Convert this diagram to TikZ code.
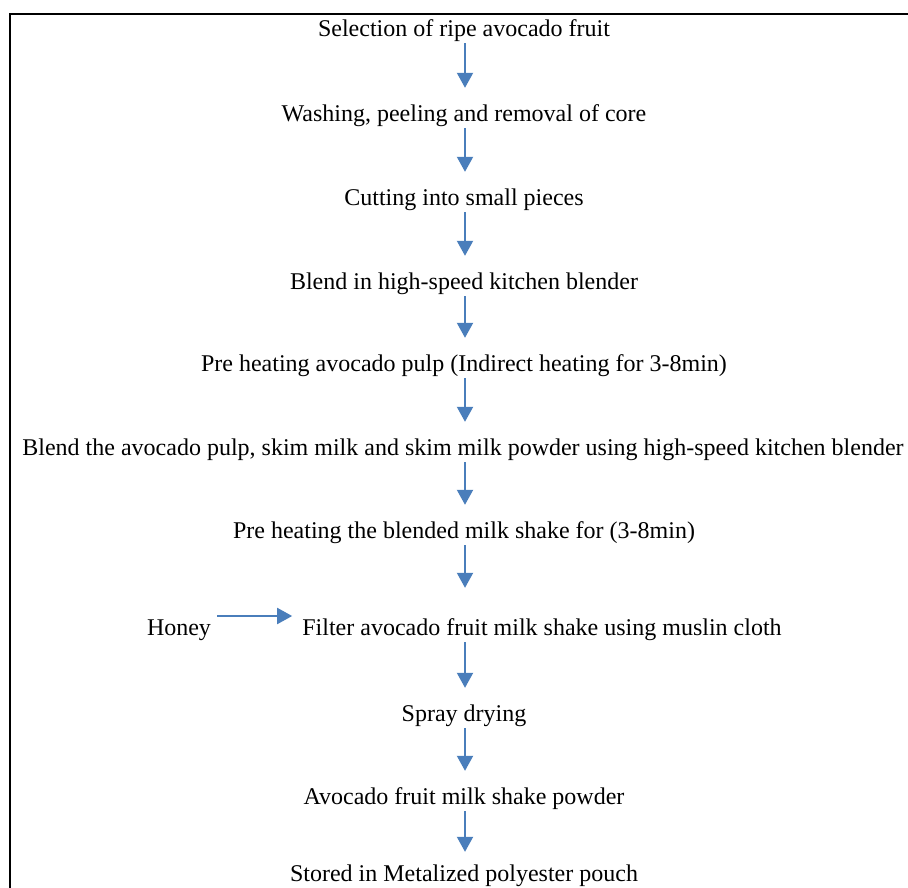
\documentclass[tikz,border=0pt]{standalone}
\usepackage{fontspec}
\setmainfont{Liberation Serif}
\usepackage{xcolor}
\usepackage{tikz}
\usetikzlibrary{arrows.meta}
\definecolor{flowblue}{RGB}{74,126,187}

\begin{document}
\begin{tikzpicture}[x=1pt,y=-1pt,
		stage/.style={anchor=base,inner sep=0pt,text height=16pt,text depth=5pt,font=\fontsize{24pt}{28pt}\selectfont},
		flow/.style={-{Triangle[length=15pt,width=16pt]},line width=2pt,draw=flowblue,fill=flowblue,shorten <=2pt,shorten >=17pt}]
		\useasboundingbox (0,0) rectangle (908,887);
		\clip (0,0) rectangle (908,887);
		\draw[line width=2pt] (10,14) rectangle (930,910);
		%
		\coordinate (axis) at (465,0);
		\node[stage] (sel) at (464,36) {Selection of ripe avocado fruit};
		\node[stage] (wash) at (464,121) {Washing, peeling and removal of core};
		\node[stage] (cut) at (464,205) {Cutting into small pieces};
		\node[stage] (blend) at (464,289) {Blend in high-speed kitchen blender};
		\node[stage] (preheat) at (464,371) {Pre heating avocado pulp (Indirect heating for 3-8min)};
		\node[stage] (mix) at (463,455) {Blend the avocado pulp, skim milk and skim milk powder using high-speed kitchen blender};
		\node[stage] (reheat) at (464,538) {Pre heating the blended milk shake for (3-8min)};
		\node[stage] (filter) at (542,635) {Filter avocado fruit milk shake using muslin cloth};
		\node[stage] (honey) at (179,635) {Honey};
		\node[stage] (spray) at (464,721) {Spray drying};
		\node[stage] (powder) at (464,804) {Avocado fruit milk shake powder};
		\node[stage] (store) at (464,881) {Stored in Metalized polyester pouch};
		%
		\draw[flow] (sel.south -| axis) -- (wash.north -| axis);
		\draw[flow] (wash.south -| axis) -- (cut.north -| axis);
		\draw[flow] (cut.south -| axis) -- (blend.north -| axis);
		\draw[flow] (blend.south -| axis) -- (preheat.north -| axis);
		\draw[flow] (preheat.south -| axis) -- (mix.north -| axis);
		\draw[flow] (mix.south -| axis) -- (reheat.north -| axis);
		\draw[flow,shorten >=31pt] (reheat.south -| axis) -- (filter.north -| axis);
		\draw[flow] (filter.south -| axis) -- (spray.north -| axis);
		\draw[flow] (spray.south -| axis) -- (powder.north -| axis);
		\draw[flow,shorten >=13pt] (powder.south -| axis) -- (store.north -| axis);
		\draw[flow,shorten <=6pt,shorten >=10pt] ([yshift=19pt]honey.base east) -- ([yshift=19pt]filter.base west);
\end{tikzpicture}
\end{document}
